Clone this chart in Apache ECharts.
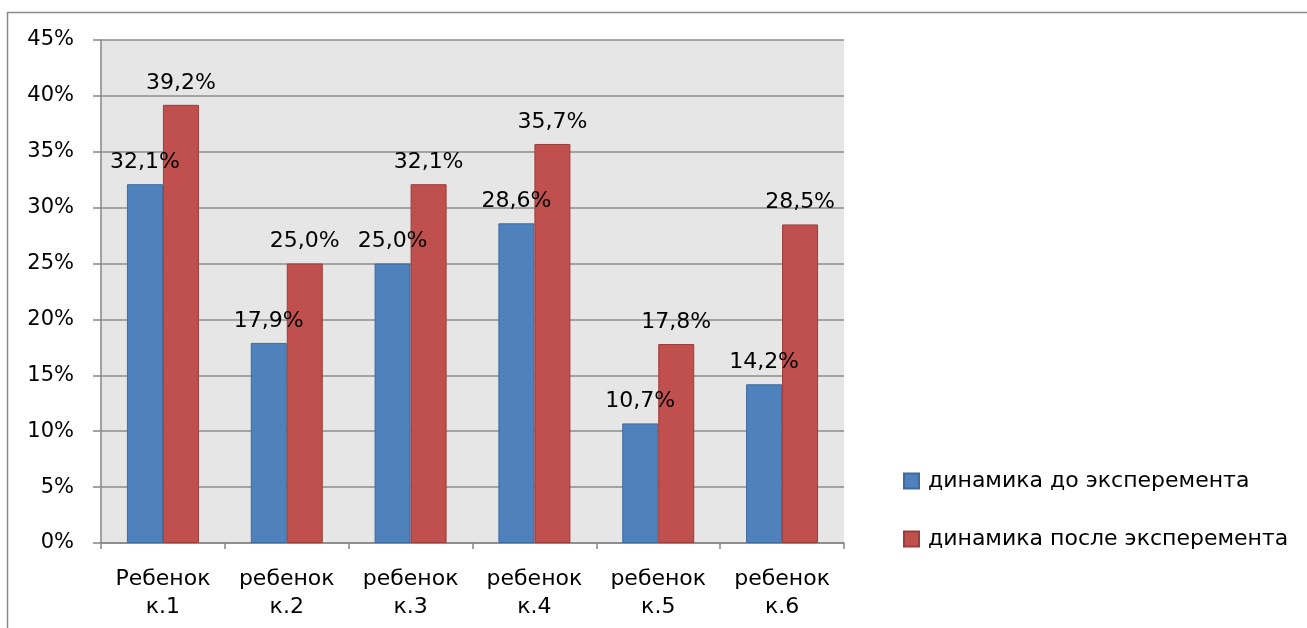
<!DOCTYPE html>
<html>
<head>
<meta charset="utf-8">
<script src="https://cdn.jsdelivr.net/npm/echarts@6/dist/echarts.min.js"></script>
<style>
html,body{margin:0;padding:0;background:#fff;}
#main{width:1307px;height:628px;}
</style>
</head>
<body>
<div id="main"></div>
<script>
const categories = ['Ребенок\nк.1', 'ребенок\nк.2', 'ребенок\nк.3', 'ребенок\nк.4', 'ребенок\nк.5', 'ребенок\nк.6'];
const seriesNames = ['динамика до эксперемента', 'динамика после эксперемента'];
const beforeValues = [32.1, 17.9, 25.0, 28.6, 10.7, 14.2];
const afterValues = [39.2, 25.0, 32.1, 35.7, 17.8, 28.5];
const yTicks = { min: 0, max: 45, interval: 5 };

const FONT = '"DejaVu Sans", Verdana, sans-serif';
const FS = 22;
const chart = echarts.init(document.getElementById('main'));
const fmt = p => p.value.toFixed(1).replace('.', ',') + '%';

chart.setOption({
  animation: false,
  backgroundColor: '#fff',
  textStyle: { fontFamily: FONT },
  graphic: [{
    type: 'rect',
    shape: { x: 7.5, y: 12.5, width: 1400, height: 700 },
    style: { fill: 'none', stroke: '#8a8a8a', lineWidth: 1.5 },
    silent: true
  }],
  grid: {
    left: 101, right: 463, top: 40, bottom: 85,
    show: true, backgroundColor: '#e6e6e6', borderWidth: 0
  },
  legend: {
    orient: 'vertical',
    left: 898, top: 465,
    itemWidth: 15, itemHeight: 15, itemGap: 36,
    icon: 'rect',
    textStyle: { fontFamily: FONT, fontSize: FS, color: '#000', padding: [0, 0, 0, 4] },
    data: seriesNames
  },
  xAxis: {
    type: 'category',
    data: categories,
    axisLine: { lineStyle: { color: '#868686', width: 1.5 } },
    axisTick: { show: true, length: 6, alignWithLabel: false, lineStyle: { color: '#868686', width: 1.5 } },
    axisLabel: { color: '#000', fontFamily: FONT, fontSize: FS, lineHeight: 28, margin: 22, interval: 0 }
  },
  yAxis: {
    type: 'value',
    min: yTicks.min, max: yTicks.max, interval: yTicks.interval,
    axisLine: { show: true, lineStyle: { color: '#868686', width: 1.5 } },
    axisTick: { show: true, length: 8, lineStyle: { color: '#868686', width: 1.5 } },
    splitLine: { lineStyle: { color: '#8c8c8c', width: 1.5 } },
    axisLabel: { color: '#000', fontFamily: FONT, fontSize: 21, margin: 27, formatter: '{value}%' }
  },
  series: [{
    name: seriesNames[0],
    type: 'bar',
    data: beforeValues,
    barWidth: 36,
    barGap: '0%',
    itemStyle: { color: '#4f81bd', borderColor: '#3d6b9f', borderWidth: 1 },
    label: { show: true, position: 'top', distance: 11, formatter: fmt, color: '#000', fontFamily: FONT, fontSize: FS }
  }, {
    name: seriesNames[1],
    type: 'bar',
    data: afterValues,
    barWidth: 36,
    barGap: '0%',
    itemStyle: { color: '#c0504d', borderColor: '#9c3c39', borderWidth: 1 },
    label: { show: true, position: 'top', distance: 11, formatter: fmt, color: '#000', fontFamily: FONT, fontSize: FS }
  }]
});
</script>
</body>
</html>
